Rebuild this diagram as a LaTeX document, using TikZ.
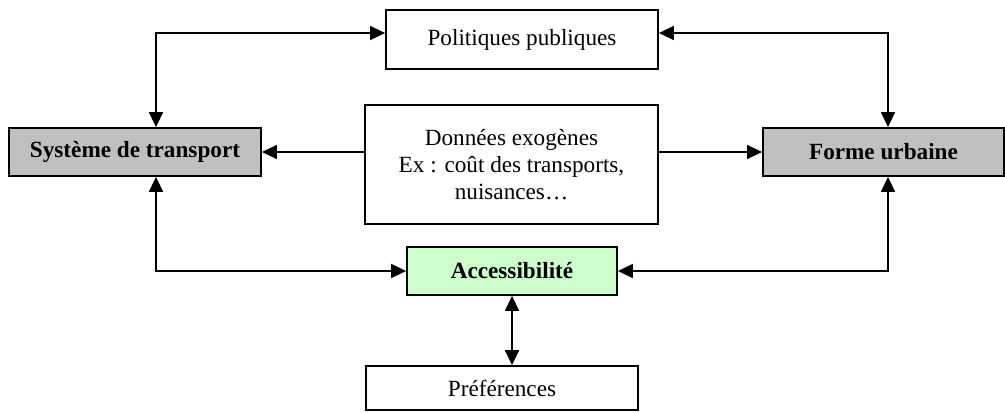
\documentclass[tikz,border=0pt]{standalone}
\usepackage{fontspec}
\setmainfont{Liberation Serif}
\usetikzlibrary{arrows.meta}
\definecolor{boxgrey}{RGB}{192,192,192}
\definecolor{accgreen}{RGB}{204,255,204}

\begin{document}
\begin{tikzpicture}[x=0.5pt, y=-0.5pt,
    font=\fontsize{11.6}{13.3}\selectfont,
    box/.style={draw, line width=0.9pt, inner sep=0pt, align=center},
    keybox/.style={box, fill=boxgrey, font=\fontsize{11.6}{13.3}\selectfont\bfseries},
    tip/.tip={Triangle[length=7.5pt, width=7pt]},
    twoway/.style={line width=0.75pt, tip-tip},
    oneway/.style={line width=0.75pt, -tip}]
\useasboundingbox (0,0) rectangle (1005,412);
% Draw boxes
\node[box, minimum width=136pt, minimum height=29.5pt] (pol) at (522,39.5) {Politiques publiques};
\node[box, minimum width=146.5pt, minimum height=59.5pt] (don) at (511.5,164.5)
    {Données exogènes\\Ex : coût des transports,\\nuisances…};
\node[keybox, minimum width=126pt, minimum height=24pt] (sys) at (135,152) {Système de transport};
\node[keybox, minimum width=120.5pt, minimum height=24pt] (forme) at (883.5,152) {Forme urbaine};
\node[keybox, fill=accgreen, minimum width=105pt, minimum height=24pt] (acc) at (512,271) {Accessibilité};
\node[box, minimum width=136pt, minimum height=22pt] (pref) at (502,388) {Préférences};
% Draw connectors
\draw[twoway] ([xshift=10.5pt]sys.north) |- ([yshift=3.25pt]pol.west);
\draw[twoway] ([xshift=2.25pt]forme.north) |- ([yshift=3.25pt]pol.east);
\draw[oneway] (sys.east -| don.west) -- (sys.east);
\draw[oneway] (forme.west -| don.east) -- (forme.west);
\draw[twoway] ([xshift=10.5pt]sys.south) |- (acc.west);
\draw[twoway] ([xshift=2.25pt]forme.south) |- (acc.east);
\draw[twoway] (acc.south) -- (acc.south |- pref.north);
\end{tikzpicture}
\end{document}
